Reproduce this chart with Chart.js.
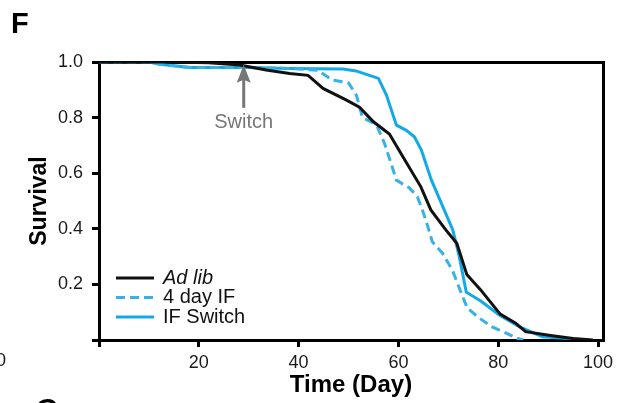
<!DOCTYPE html>
<html>
<head>
<meta charset="utf-8">
<script src="https://cdn.jsdelivr.net/npm/chart.js@4/dist/chart.umd.min.js"></script>
<style>
  body { margin: 0; background: #fff; }
  canvas { display: block; }
</style>
</head>
<body>
<canvas id="survivalChart" width="622" height="403"></canvas>
<script>
// Données (jour, survie)
const seriesNames = ['Ad lib', '4 day IF', 'IF Switch'];

const adLibDays = [0, 15, 22, 28.2, 33.5, 38.2, 41.9, 44.9, 49.6, 52.2, 55, 58.2, 60.9, 64.5, 66.5, 69.5, 71.7, 73.7, 76.4, 80.4, 83.5, 85.5, 90.5, 95, 99];
const adLibSurv = [1, 1, 0.997, 0.989, 0.971, 0.959, 0.952, 0.905, 0.863, 0.837, 0.785, 0.741, 0.659, 0.551, 0.468, 0.396, 0.348, 0.236, 0.182, 0.093, 0.06, 0.03, 0.016, 0.005, 0];

const ifDays = [0, 10, 12.2, 18.2, 30, 38.2, 43.8, 46.8, 50, 51.6, 52.8, 54.6, 55.8, 57.2, 58.8, 59.6, 62.2, 63.8, 64.8, 65.8, 66.8, 68.8, 70.8, 72.6, 73.8, 76.2, 78.8, 81.6, 83.6, 85];
const ifSurv = [1, 1, 0.992, 0.98, 0.98, 0.977, 0.97, 0.935, 0.925, 0.88, 0.8, 0.784, 0.766, 0.708, 0.62, 0.575, 0.547, 0.515, 0.468, 0.414, 0.353, 0.313, 0.252, 0.169, 0.115, 0.079, 0.047, 0.025, 0.007, 0];

const switchDays = [0, 10, 12.2, 18.2, 30, 38.2, 48.9, 51.5, 56, 57.6, 59.6, 61.5, 63.2, 64.6, 66.6, 68.9, 70.9, 72.2, 73.6, 76.5, 80.2, 84.5, 88.9, 95, 98];
const switchSurv = [1, 1, 0.992, 0.98, 0.98, 0.977, 0.975, 0.968, 0.941, 0.881, 0.773, 0.755, 0.731, 0.683, 0.576, 0.48, 0.396, 0.3, 0.172, 0.14, 0.09, 0.045, 0.012, 0.004, 0];

const xTicks = [0, 20, 40, 60, 80, 100];
const yTicks = [0, 0.2, 0.4, 0.6, 0.8, 1.0];
const switchDay = 29;

// Couleurs
const black = '#111111';
const blue = '#12a9e6';
const blueDash = '#38b1e4';
const grey = '#777777';

Chart.defaults.font.family = '"Liberation Sans", Arial, sans-serif';
Chart.defaults.color = '#1a1a1a';

function toPoints(days, surv) {
    return days.map((d, i) => ({ x: d, y: surv[i] }));
}

// Légende dessinée dans la zone du graphique
const insideLegend = {
    id: 'insideLegend',
    afterDatasetsDraw(chart) {
        const { ctx, chartArea } = chart;
        ctx.save();
        chart.data.datasets.forEach((ds, i) => {
            const yy = chartArea.bottom - 62 + i * 19.5;
            const x0 = chartArea.left + 17;
            ctx.beginPath();
            ctx.setLineDash(ds.borderDash || []);
            ctx.strokeStyle = ds.borderColor;
            ctx.lineWidth = 3;
            ctx.moveTo(x0, yy);
            ctx.lineTo(x0 + 38, yy);
            ctx.stroke();
            ctx.setLineDash([]);
            ctx.fillStyle = '#111';
            ctx.font = (i === 0 ? 'italic ' : '') + '20px "Liberation Sans", Arial, sans-serif';
            ctx.textBaseline = 'middle';
            ctx.textAlign = 'left';
            ctx.fillText(ds.label, x0 + 47, yy);
        });
        ctx.restore();
    }
};

// Flèche « Switch »
const switchMarker = {
    id: 'switchMarker',
    afterDatasetsDraw(chart) {
        const { ctx, scales: { x, y } } = chart;
        const px = x.getPixelForValue(switchDay);
        const tip = y.getPixelForValue(0.99);
        const tail = y.getPixelForValue(0.835);
        ctx.save();
        ctx.strokeStyle = grey;
        ctx.fillStyle = grey;
        ctx.lineWidth = 3;
        ctx.beginPath();
        ctx.moveTo(px, tail);
        ctx.lineTo(px, tip + 12);
        ctx.stroke();
        ctx.beginPath();
        ctx.moveTo(px, tip);
        ctx.lineTo(px - 7, tip + 18);
        ctx.lineTo(px, tip + 15);
        ctx.lineTo(px + 7, tip + 18);
        ctx.closePath();
        ctx.fill();
        ctx.font = '20px "Liberation Sans", Arial, sans-serif';
        ctx.textAlign = 'center';
        ctx.textBaseline = 'alphabetic';
        ctx.fillText('Switch', px, y.getPixelForValue(0.763));
        ctx.restore();
    }
};

// Lettres de panneau et restes des panneaux voisins
const panelText = {
    id: 'panelText',
    afterDraw(chart) {
        const { ctx } = chart;
        ctx.save();
        ctx.fillStyle = '#000';
        ctx.font = 'bold 29px "Liberation Sans", Arial, sans-serif';
        ctx.textBaseline = 'alphabetic';
        ctx.textAlign = 'left';
        ctx.fillText('F', 11, 33);
        ctx.fillText('G', 36, 419);
        ctx.font = '18px "Liberation Sans", Arial, sans-serif';
        ctx.fillStyle = '#1a1a1a';
        ctx.textAlign = 'right';
        ctx.fillText('100', 6, 366);
        ctx.restore();
    }
};

const axisGrid = {
    drawOnChartArea: false,
    drawTicks: true,
    tickLength: 7,
    tickWidth: 3,
    tickColor: '#000',
    color: '#000',
    lineWidth: 3
};
const axisBorder = { display: true, color: '#000', width: 3 };

const ctx = document.getElementById('survivalChart').getContext('2d');
new Chart(ctx, {
    type: 'line',
    data: {
        datasets: [
            {
                label: seriesNames[0],
                data: toPoints(adLibDays, adLibSurv),
                borderColor: black,
                borderWidth: 3
            },
            {
                label: seriesNames[1],
                data: toPoints(ifDays, ifSurv),
                borderColor: blueDash,
                borderWidth: 3,
                borderDash: [9, 5]
            },
            {
                label: seriesNames[2],
                data: toPoints(switchDays, switchSurv),
                borderColor: blue,
                borderWidth: 3
            }
        ]
    },
    options: {
        responsive: false,
        animation: false,
        events: [],
        layout: { padding: { left: 0, top: 62, right: 19, bottom: 0 } },
        elements: {
            point: { radius: 0 },
            line: { tension: 0, fill: false }
        },
        plugins: {
            legend: { display: false },
            tooltip: { enabled: false }
        },
        scales: {
            x: {
                type: 'linear',
                position: 'bottom',
                min: 0,
                max: 101,
                afterBuildTicks: s => { s.ticks = xTicks.map(v => ({ value: v })); },
                afterFit: s => { s.height = 63; },
                ticks: {
                    callback: v => (v === 0 ? '' : String(v)),
                    font: { size: 18 },
                    padding: 5,
                    maxRotation: 0
                },
                grid: axisGrid,
                border: axisBorder,
                title: {
                    display: true,
                    text: 'Time (Day)',
                    color: '#000',
                    font: { size: 24, weight: 'bold' },
                    padding: { top: 0, bottom: 3 }
                }
            },
            xTop: {
                type: 'linear',
                position: 'top',
                min: 0,
                max: 101,
                afterFit: s => { s.height = 0; },
                ticks: { display: false },
                grid: { display: false },
                border: axisBorder
            },
            y: {
                type: 'linear',
                position: 'left',
                min: 0,
                max: 1,
                afterBuildTicks: s => { s.ticks = yTicks.map(v => ({ value: v })); },
                afterFit: s => { s.width = 99; },
                ticks: {
                    callback: v => (v === 0 ? '' : v.toFixed(1)),
                    font: { size: 18 },
                    padding: 9
                },
                grid: axisGrid,
                border: axisBorder,
                title: {
                    display: true,
                    text: 'Survival',
                    color: '#000',
                    font: { size: 23, weight: 'bold' },
                    padding: { top: 26, bottom: 0 }
                }
            },
            yRight: {
                type: 'linear',
                position: 'right',
                min: 0,
                max: 1,
                afterFit: s => { s.width = 0; },
                ticks: { display: false },
                grid: { display: false },
                border: axisBorder
            }
        }
    },
    plugins: [insideLegend, switchMarker, panelText]
});
</script>
</body>
</html>
